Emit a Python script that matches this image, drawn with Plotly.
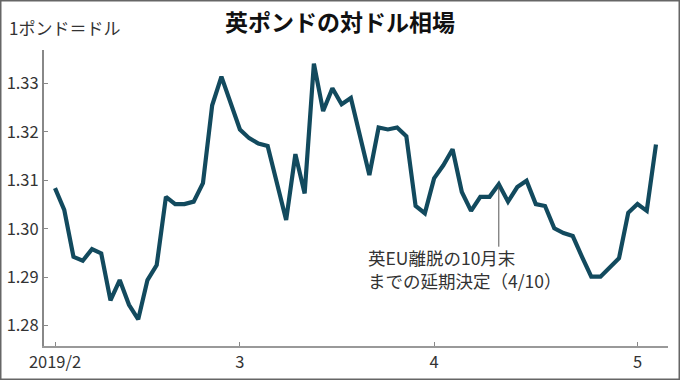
import pandas as pd
import plotly.graph_objects as go

# trading days 2019/2/1 - 2019/5/3
dates = [d.strftime("%Y-%m-%d") for d in pd.bdate_range("2019-02-01", "2019-05-03")]
rates = [
    1.3084, 1.3039, 1.2942, 1.2934, 1.2958, 1.2949, 1.2852, 1.2894, 1.2843, 1.2813,
    1.2894, 1.2925, 1.3066, 1.3051, 1.3051, 1.3056, 1.3094, 1.3255, 1.3314, 1.3259,
    1.3205, 1.3187, 1.3176, 1.3171, 1.3094, 1.3018, 1.3154, 1.3073, 1.3341, 1.3243,
    1.3290, 1.3257, 1.3270, 1.3190, 1.3111, 1.3209, 1.3205, 1.3209, 1.3191, 1.3047,
    1.3032, 1.3104, 1.3131, 1.3164, 1.3076, 1.3037, 1.3066, 1.3066, 1.3092, 1.3056,
    1.3086, 1.3099, 1.3051, 1.3047, 1.3001, 1.2991, 1.2985, 1.2942, 1.2901, 1.2901,
    1.2921, 1.2939, 1.3033, 1.3051, 1.3037, 1.3174,
]
xtick_dates = ["2019-02-01", "2019-03-01", "2019-04-01", "2019-05-01"]
xtick_labels = ["2019/2", "3", "4", "5"]
ytick_vals = [1.28, 1.29, 1.30, 1.31, 1.32, 1.33]
ytick_labels = ["1.28", "1.29", "1.30", "1.31", "1.32", "1.33"]
title_text = "英ポンドの対ドル相場"
unit_text = "1ポンド＝ドル"
note_lines = ["英EU離脱の10月末", "までの延期決定（4/10）"]
note_date = "2019-04-10"

FONT = "Noto Sans CJK JP"
W, H = 680, 380
ML, MR, MT, MB = 44, 12, 50, 34
PW, PH = W - ML - MR, H - MT - MB

fig = go.Figure()
fig.add_trace(go.Scatter(
    x=dates, y=rates, mode="lines",
    line=dict(color="#124a5e", width=4.2),
    hoverinfo="skip",
))

note_idx = dates.index(note_date)
note_val = rates[note_idx]

annotations = [
    dict(text="<b>" + title_text + "</b>", xref="paper", yref="paper",
         x=(340 - ML) / PW, y=1 + (MT - 21) / PH, xanchor="center", yanchor="middle",
         showarrow=False, font=dict(family=FONT, size=23, color="#111111")),
    dict(text=unit_text, xref="paper", yref="paper",
         x=(7 - ML) / PW, y=1 + (MT - 27) / PH, xanchor="left", yanchor="middle",
         showarrow=False, font=dict(family=FONT, size=17, color="#333333")),
]
for k, line_text in enumerate(note_lines):
    annotations.append(dict(
        text=line_text, xref="paper", yref="paper",
        x=(367 - ML) / PW, y=1 - (257.5 + 22.5 * k - MT) / PH,
        xanchor="left", yanchor="middle", showarrow=False, borderpad=0,
        font=dict(family=FONT, size=17.5, color="#333333")))

fig.update_layout(
    template="none",
    width=W, height=H,
    margin=dict(l=ML, r=MR, t=MT, b=MB, pad=0),
    paper_bgcolor="white", plot_bgcolor="white",
    showlegend=False,
    font=dict(family=FONT, color="#333333", size=16),
    xaxis=dict(
        type="category", automargin=False,
        range=[-1.19, 66.3],
        tickmode="array", tickvals=xtick_dates, ticktext=xtick_labels,
        ticks="inside", ticklen=4, tickwidth=1, tickcolor="#888888",
        showline=True, linecolor="#999999", linewidth=2,
        showgrid=False, zeroline=False,
        tickfont=dict(family=FONT, size=16.5, color="#333333"),
    ),
    yaxis=dict(
        automargin=False,
        range=[1.2758, 1.3369],
        tickmode="array", tickvals=ytick_vals, ticktext=ytick_labels,
        ticks="inside", ticklen=4, tickwidth=1, tickcolor="#888888",
        showline=True, linecolor="#888888", linewidth=2,
        showgrid=False, zeroline=False,
        tickfont=dict(family=FONT, size=16.5, color="#333333"),
    ),
    annotations=annotations,
    shapes=[
        dict(type="line", xref="x", yref="y", x0=note_date, x1=note_date,
             y0=note_val - 0.0005, y1=1.2963,
             line=dict(color="#555555", width=1)),
        dict(type="rect", xref="paper", yref="paper",
             x0=(0.75 - ML) / PW, x1=1 + (MR - 0.75) / PW,
             y0=-(MB - 0.75) / PH, y1=1 + (MT - 0.75) / PH,
             line=dict(color="#666666", width=1.5)),
    ],
)

fig.write_html(
    "out.html",
    config={"displayModeBar": False, "staticPlot": True},
    post_script="document.body.style.margin='0px';document.body.style.overflow='hidden';",
)
